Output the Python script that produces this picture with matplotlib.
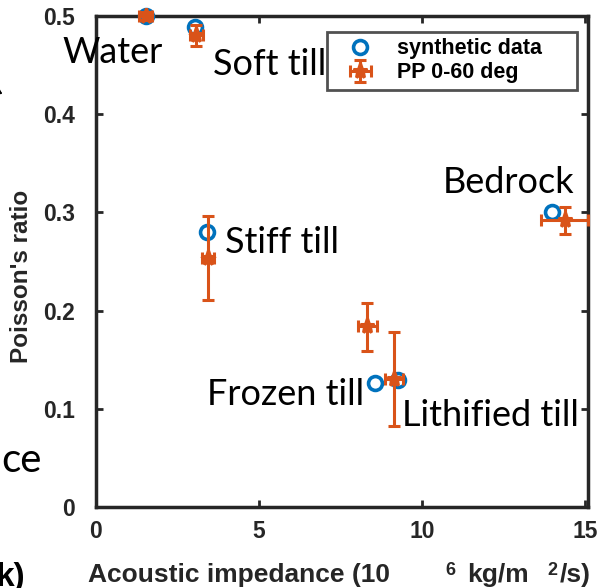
import numpy as np
import matplotlib
matplotlib.use('Agg')
import matplotlib.pyplot as plt

# synthetic data (blue circles)
syn_x = [1.53, 3.04, 3.40, 8.56, 9.26, 14.0]
syn_y = [0.500, 0.489, 0.280, 0.126, 0.129, 0.300]

# PP 0-60 deg inversion (orange, with error bars)
pp_x = [1.53, 3.07, 3.44, 8.33, 9.14, 14.39]
pp_y = [0.500, 0.481, 0.254, 0.184, 0.130, 0.292]
pp_xerr = [0.20, 0.20, 0.18, 0.28, 0.28, 0.72]
pp_ylo = [0.004, 0.012, 0.043, 0.025, 0.048, 0.014]
pp_yhi = [0.004, 0.010, 0.042, 0.024, 0.048, 0.013]

# material labels: text, x, y (baseline, data units)
lab_text = ['Water', 'Soft till', 'Stiff till', 'Frozen till', 'Lithified till', 'Bedrock']
lab_x = [-1.04, 3.60, 3.96, 3.40, 9.40, 10.64]
lab_y = [0.452, 0.440, 0.259, 0.1035, 0.082, 0.320]

BLUE = '#0072BD'
ORANGE = '#D95319'
DARK = '#262626'

plt.rcParams['font.family'] = ['Liberation Sans', 'DejaVu Sans']

fig = plt.figure(figsize=(6.01, 5.88), dpi=100)
ax = fig.add_axes([96 / 601, 1 - 507 / 588, 492 / 601, 491 / 588])

ax.plot(syn_x, syn_y, 'o', mfc='none', mec=BLUE, mew=2.6, ms=10,
        label='synthetic data', clip_on=False, zorder=3)
ax.errorbar(pp_x, pp_y, xerr=pp_xerr, yerr=[pp_ylo, pp_yhi], fmt='*',
            color=ORANGE, ms=11, mew=2.2, elinewidth=2.2, capsize=4.5,
            capthick=2.2, label='PP 0-60 deg', clip_on=False, zorder=4)

for t, x, y in zip(lab_text, lab_x, lab_y):
    ax.text(x, y, t, fontsize=26, family=['Lato', 'DejaVu Sans'],
            ha='left', va='baseline', clip_on=False, zorder=5)

ax.set_xlim(0, 15.1)
ax.set_ylim(0, 0.5)
ax.set_xticks([0, 5, 10, 15])
ax.set_yticks([0, 0.1, 0.2, 0.3, 0.4, 0.5])
ax.set_xticklabels(['0', '5', '10', '15'])
ax.set_yticklabels(['0', '0.1', '0.2', '0.3', '0.4', '0.5'])
ax.tick_params(direction='in', length=5, width=2, top=True, right=True,
               labelsize=16.5, colors=DARK)
ax.tick_params(axis='y', pad=15)
ax.tick_params(axis='x', pad=9)
for lbl in ax.get_xticklabels() + ax.get_yticklabels():
    lbl.set_fontweight('bold')
    lbl.set_color(DARK)
for s in ax.spines.values():
    s.set_linewidth(2.5)
    s.set_color(DARK)

# legend box stretched to the width it has in the original
leg = ax.legend(loc='upper left', bbox_to_anchor=(0.4695, 0.0, 0.508, 0.968),
                mode='expand', prop={'weight': 'bold', 'size': 15.5},
                frameon=True, fancybox=False, borderpad=0.3,
                labelspacing=0.15, handlelength=2.5, handletextpad=0.45,
                borderaxespad=0)
leg.get_frame().set_edgecolor(DARK)
leg.get_frame().set_linewidth(2)
leg.set_zorder(6)

# y axis label
fig.text(22 / 601, 1 - 276 / 588, "Poisson's ratio", rotation=90,
         fontsize=17.5, fontweight='bold', color=DARK, ha='center', va='center')

# x axis label, pieces as in the original
fig.text(88 / 601, 1 - 582 / 588, 'Acoustic impedance (10', fontsize=19,
         fontweight='bold', color=DARK, ha='left', va='baseline')
fig.text(445 / 601, 1 - 575 / 588, '6', fontsize=13,
         fontweight='bold', color=DARK, ha='left', va='baseline')
fig.text(467 / 601, 1 - 582 / 588, 'kg/m', fontsize=19,
         fontweight='bold', color=DARK, ha='left', va='baseline')
fig.text(547 / 601, 1 - 575 / 588, '2', fontsize=13,
         fontweight='bold', color=DARK, ha='left', va='baseline')
fig.text(560 / 601, 1 - 582 / 588, '/s)', fontsize=19,
         fontweight='bold', color=DARK, ha='left', va='baseline')

# pieces of neighbouring panels cut off at the left edge
fig.text(1 / 601, 1 - 472 / 588, 'ce', fontsize=29,
         family=['Lato', 'DejaVu Sans'], ha='left', va='baseline')
fig.text(-4 / 601, 1 - 586 / 588, 'k)', fontsize=24, fontweight='bold',
         ha='left', va='baseline')
fig.add_artist(matplotlib.patches.FancyArrowPatch(
    (-30 / 601, 1 - 72 / 588), (5 / 601, 1 - 96 / 588),
    transform=fig.transFigure, arrowstyle='-|>', mutation_scale=12,
    color='black', lw=1.5))

fig.savefig('out.png', dpi=100)
